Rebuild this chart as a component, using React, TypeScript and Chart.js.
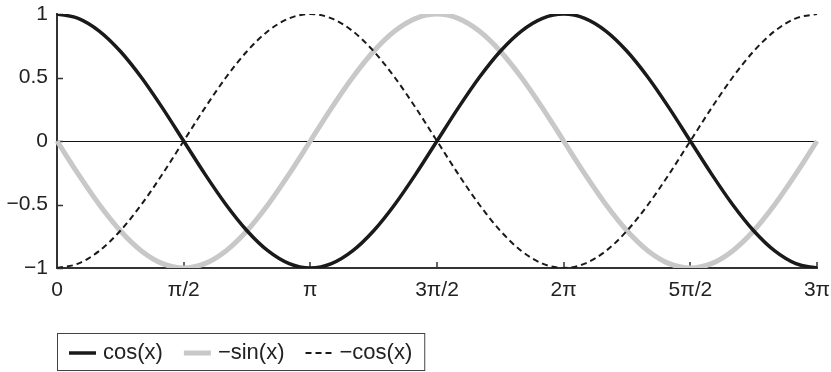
import React, { useEffect, useRef } from "react";
import { Chart, registerables } from "chart.js";

Chart.register(...registerables);

// x axis: samples every π/12 from 0 to 3π; tick labels every 6 samples (π/2)
const tickLabels = ["0", "π/2", "π", "3π/2", "2π", "5π/2", "3π"];
const stepsPerTick = 6;

const cosValues = [
  1, 0.966, 0.866, 0.707, 0.5, 0.259, 0, -0.259, -0.5, -0.707, -0.866, -0.966,
  -1, -0.966, -0.866, -0.707, -0.5, -0.259, 0, 0.259, 0.5, 0.707, 0.866, 0.966,
  1, 0.966, 0.866, 0.707, 0.5, 0.259, 0, -0.259, -0.5, -0.707, -0.866, -0.966,
  -1,
];
const negSinValues = [
  0, -0.259, -0.5, -0.707, -0.866, -0.966, -1, -0.966, -0.866, -0.707, -0.5, -0.259,
  0, 0.259, 0.5, 0.707, 0.866, 0.966, 1, 0.966, 0.866, 0.707, 0.5, 0.259,
  0, -0.259, -0.5, -0.707, -0.866, -0.966, -1, -0.966, -0.866, -0.707, -0.5, -0.259,
  0,
];
const negCosValues = [
  -1, -0.966, -0.866, -0.707, -0.5, -0.259, 0, 0.259, 0.5, 0.707, 0.866, 0.966,
  1, 0.966, 0.866, 0.707, 0.5, 0.259, 0, -0.259, -0.5, -0.707, -0.866, -0.966,
  -1, -0.966, -0.866, -0.707, -0.5, -0.259, 0, 0.259, 0.5, 0.707, 0.866, 0.966,
  1,
];
const seriesNames = ["cos(x)", "−sin(x)", "−cos(x)"];
const yMin = -1;
const yMax = 1;
const yStep = 0.5;

const FONT = '"Liberation Sans", Arial, Helvetica, sans-serif';
const FONT_SIZE = 21;
const LEGEND_FONT_SIZE = 22;
const W = 831;
const H = 372;

const xLabels = cosValues.map((_, i) =>
  i % stepsPerTick === 0 ? tickLabels[i / stepsPerTick] : ""
);

const fmtY = (v: number) => (v < 0 ? "−" + String(Math.abs(v)) : String(v));

const decorations = {
  id: "decorations",
  beforeDatasetsDraw(chart: any) {
    const { ctx, chartArea, scales } = chart;
    const xs = scales.x;
    const ys = scales.y;
    ctx.save();
    // zero line
    const y0 = Math.round(ys.getPixelForValue(0)) + 0.5;
    ctx.strokeStyle = "#111";
    ctx.lineWidth = 1;
    ctx.beginPath();
    ctx.moveTo(chartArea.left, y0);
    ctx.lineTo(chartArea.right, y0);
    ctx.stroke();
    // inward tick marks
    ctx.strokeStyle = "#333";
    ctx.lineWidth = 1.5;
    xLabels.forEach((lab, i) => {
      if (!lab || i === 0) return;
      const px = Math.round(xs.getPixelForValue(i));
      ctx.beginPath();
      ctx.moveTo(px, chartArea.bottom);
      ctx.lineTo(px, chartArea.bottom - 6);
      ctx.stroke();
    });
    for (let v = yMin; v <= yMax + 1e-9; v += yStep) {
      const py = Math.round(ys.getPixelForValue(v)) + 0.5;
      ctx.beginPath();
      ctx.moveTo(chartArea.left, py);
      ctx.lineTo(chartArea.left + 6, py);
      ctx.stroke();
    }
    ctx.restore();
  },
  afterDraw(chart: any) {
    const { ctx } = chart;
    const datasets = chart.data.datasets;
    ctx.save();
    ctx.font = `${LEGEND_FONT_SIZE}px ${FONT}`;
    const boxLeft = 57;
    const boxTop = 333;
    const boxH = 38;
    const cy = boxTop + boxH / 2 + 1;
    const lineLen = 27;
    let x = boxLeft + 12;
    datasets.forEach((ds: any, i: number) => {
      ctx.save();
      ctx.strokeStyle = ds.borderColor;
      ctx.lineWidth = ds.borderWidth;
      ctx.setLineDash(ds.borderDash || []);
      ctx.beginPath();
      ctx.moveTo(x, cy);
      ctx.lineTo(x + lineLen, cy);
      ctx.stroke();
      ctx.restore();
      x += lineLen + 7;
      ctx.fillStyle = "#222";
      ctx.textBaseline = "middle";
      ctx.textAlign = "left";
      ctx.fillText(ds.label, x, cy);
      x += ctx.measureText(ds.label).width;
      if (i < datasets.length - 1) x += 21;
    });
    x += 12;
    ctx.strokeStyle = "#444";
    ctx.lineWidth = 1;
    ctx.strokeRect(boxLeft + 0.5, boxTop + 0.5, x - boxLeft, boxH - 1);
    ctx.restore();
  },
};

export default function App() {
  const ref = useRef<HTMLCanvasElement | null>(null);
  useEffect(() => {
    if (!ref.current) return;
    const chart = new Chart(ref.current, {
      type: "line",
      data: {
        labels: xLabels,
        datasets: [
          {
            label: seriesNames[0],
            data: cosValues,
            borderColor: "#1a1a1a",
            borderWidth: 3.5,
            pointRadius: 0,
            cubicInterpolationMode: "monotone",
            order: 0,
          },
          {
            label: seriesNames[1],
            data: negSinValues,
            borderColor: "#c8c8c8",
            borderWidth: 5,
            pointRadius: 0,
            cubicInterpolationMode: "monotone",
            order: 2,
          },
          {
            label: seriesNames[2],
            data: negCosValues,
            borderColor: "#1a1a1a",
            borderWidth: 2,
            borderDash: [6, 4],
            pointRadius: 0,
            cubicInterpolationMode: "monotone",
            order: 1,
          },
        ] as any,
      },
      plugins: [decorations],
      options: {
        responsive: false,
        animation: false,
        devicePixelRatio: 1,
        layout: { padding: { top: 14, right: 14, left: 0, bottom: 0 } },
        plugins: { legend: { display: false }, tooltip: { enabled: false } },
        scales: {
          x: {
            type: "category",
            offset: false,
            grid: { display: false, drawTicks: false },
            border: { display: true, color: "#333", width: 2 },
            ticks: {
              autoSkip: false,
              maxRotation: 0,
              minRotation: 0,
              padding: 10,
              color: "#222",
              font: { family: FONT, size: FONT_SIZE },
              callback: (_v: any, i: number) => xLabels[i],
            },
            afterFit: (s: any) => {
              s.height = H - 268;
              s.paddingLeft = 0;
              s.paddingRight = 0;
            },
          },
          y: {
            type: "linear",
            min: yMin,
            max: yMax,
            grid: { display: false, drawTicks: false },
            border: { display: true, color: "#333", width: 2 },
            ticks: {
              stepSize: yStep,
              padding: 9,
              color: "#222",
              font: { family: FONT, size: FONT_SIZE },
              callback: (v: any) => fmtY(Number(v)),
            },
            afterFit: (s: any) => {
              s.width = 57;
              s.paddingTop = 0;
              s.paddingBottom = 0;
            },
          },
        },
      } as any,
    });
    return () => chart.destroy();
  }, []);
  return (
    <div style={{ position: "absolute", left: 0, top: 0, width: W, height: H }}>
      <canvas ref={ref} width={W} height={H} style={{ display: "block" }} />
    </div>
  );
}
